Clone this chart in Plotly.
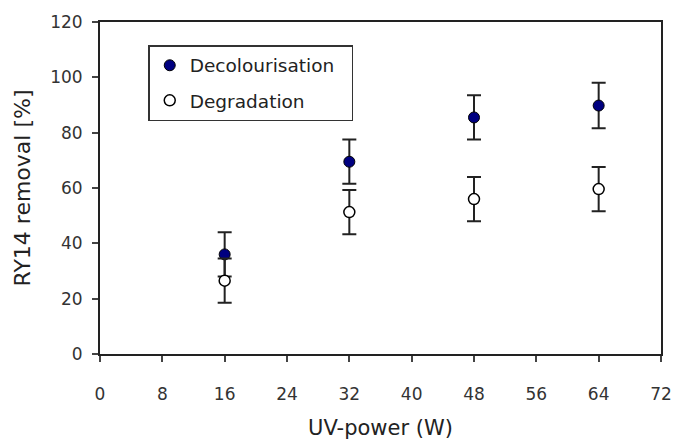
import plotly.graph_objects as go

uv_power = [16, 32, 48, 64]
decol = [36, 69.5, 85.5, 89.8]
decol_err = [8, 8, 8, 8.2]
degr = [26.5, 51.3, 56, 59.6]
degr_err = [8, 8, 8, 8]

series_names = ["Decolourisation", "Degradation"]
x_ticks = [0, 8, 16, 24, 32, 40, 48, 56, 64, 72]
y_ticks = [0, 20, 40, 60, 80, 100, 120]

pad = "\u00a0\u00a0"

fig = go.Figure()
fig.add_trace(go.Scatter(
    x=uv_power, y=decol, mode="markers", name=series_names[0] + pad, legendgroup="a",
    marker=dict(size=11, color="#000080", line=dict(color="black", width=1)),
    error_y=dict(type="data", array=decol_err, visible=True, color="#222", thickness=2, width=7),
))
fig.add_trace(go.Scatter(
    x=uv_power, y=degr, mode="markers", name=series_names[1], legendgroup="b",
    marker=dict(size=11, color="white", line=dict(color="black", width=1.5)),
    error_y=dict(type="data", array=degr_err, visible=True, color="#222", thickness=2, width=7),
))

font = "DejaVu Sans, Verdana, sans-serif"
fig.update_layout(
    width=675, height=443,
    margin=dict(l=100, r=14, t=22, b=89),
    plot_bgcolor="white", paper_bgcolor="white",
    font=dict(family=font, color="#222", size=17),
    showlegend=True,
    legend=dict(x=0.086, y=0.93, xanchor="left", yanchor="top",
                bordercolor="#333", borderwidth=1.5, bgcolor="white",
                font=dict(size=18.5, color="#222"), tracegroupgap=8,
                itemwidth=30),
    xaxis=dict(range=[0, 72], tickvals=x_ticks, ticktext=[str(v) for v in x_ticks],
               ticks="outside", ticklen=6, tickwidth=2, tickcolor="#444",
               showline=True, linecolor="#222", linewidth=2, mirror=True,
               showgrid=False, zeroline=False, ticklabelstandoff=18, automargin=False,
               tickfont=dict(size=17, color="#333"),
               title=dict(text="UV-power (W)", font=dict(size=21, color="#222"), standoff=17)),
    yaxis=dict(range=[0, 120], tickvals=y_ticks,
               ticks="outside", ticklen=6, tickwidth=2, tickcolor="#444",
               showline=True, linecolor="#222", linewidth=2, mirror=True,
               showgrid=False, zeroline=False, ticklabelstandoff=6, automargin=False,
               tickfont=dict(size=17, color="#333"),
               title=dict(text="RY14 removal [%]", font=dict(size=22, color="#222"), standoff=13)),
)

fig.write_html("out.html")
